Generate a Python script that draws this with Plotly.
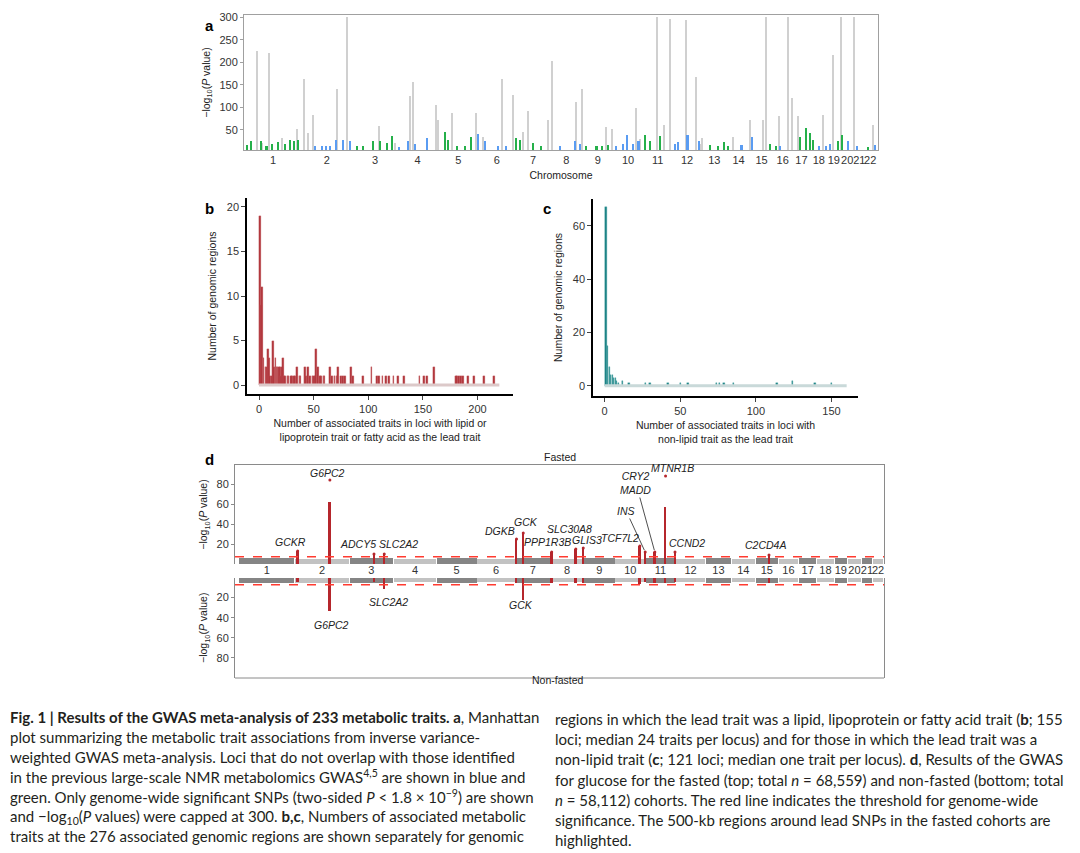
import numpy as np
import plotly.graph_objects as go

# ---------------- data ----------------
chrom_names = [str(i) for i in range(1, 23)]
chrom_len = [249.3, 243.2, 198.0, 191.2, 180.9, 171.1, 159.1, 146.4, 141.2, 135.5, 135.0,
             133.9, 115.2, 107.3, 102.5, 90.4, 81.2, 78.1, 59.1, 63.0, 48.1, 51.3]
chrom_start = np.concatenate([[0], np.cumsum(chrom_len)[:-1]])
chrom_mid = chrom_start + np.array(chrom_len) / 2

# panel a: loci (cumulative genome position in Mb, -log10 P)
gray_pos = [50, 74, 106, 165, 233, 266, 285, 308, 416, 462, 610, 682, 751, 763, 870, 879, 943, 1052,
            1085, 1170, 1221, 1268, 1291, 1382, 1399, 1510, 1538, 1646, 1673, 1783, 1802, 1880, 1912,
            1940, 2013, 2057, 2078, 2085, 2228, 2306, 2364, 2379, 2438, 2479, 2498, 2525, 2640, 2684,
            2722, 2781, 2867]
gray_logp = [224, 20, 220, 32, 51, 163, 43, 83, 140, 300, 59, 20, 124, 157, 105, 71, 87, 88, 35, 163,
             128, 46, 91, 72, 203, 111, 140, 57, 51, 98, 30, 300, 61, 296, 293, 167, 18, 32, 35, 71,
             72, 300, 80, 300, 120, 80, 83, 216, 300, 300, 61]
green_pos = [5, 27, 73, 96, 119, 148, 180, 203, 221, 239, 509, 536, 581, 614, 645, 672, 911, 925, 965,
             1003, 1030, 1236, 1255, 1314, 1353, 1559, 1605, 1628, 1657, 1826, 1848, 1897, 2123, 2159,
             2187, 2208, 2397, 2424, 2535, 2563, 2583, 2594, 2709, 2726, 2846]
green_logp = [17, 24, 24, 13, 19, 22, 19, 28, 24, 28, 13, 13, 24, 24, 20, 37, 46, 28, 13, 15, 34, 31, 28,
              20, 13, 13, 14, 13, 17, 39, 24, 37, 17, 13, 22, 15, 18, 15, 34, 54, 43, 28, 24, 39, 12]
blue_pos = [317, 349, 367, 385, 416, 444, 477, 701, 742, 774, 829, 1062, 1094, 1154, 1193, 1437, 1506,
            1528, 1696, 1725, 1743, 1771, 1797, 1963, 1977, 2021, 2073, 2268, 2318, 2446, 2622, 2653,
            2672, 2755, 2794, 2878]
blue_logp = [13, 13, 13, 13, 28, 28, 24, 12, 24, 19, 31, 41, 24, 13, 15, 14, 24, 19, 13, 19, 39, 19, 26,
             19, 22, 39, 24, 17, 33, 14, 13, 13, 18, 24, 13, 17]

# panel b: lipid lead trait
b_traits = [1, 2, 3, 4, 6, 7, 8, 9, 10, 12, 13, 14, 15, 16, 17, 18, 19, 20, 21, 22, 23, 24, 26, 27, 29,
            30, 32, 33, 35, 37, 38, 42, 43, 45, 47, 49, 50, 51, 52, 54, 56, 57, 59, 60, 65, 67, 69, 71,
            72, 75, 77, 79, 84, 86, 95, 103, 108, 110, 113, 116, 119, 123, 127, 133, 147, 151, 154,
            160, 180, 181, 183, 185, 187, 191, 197, 206, 215]
b_regions = [19, 9, 11, 3, 2, 2, 4, 3, 1, 1, 5, 2, 3, 2, 2, 2, 2, 1, 2, 3, 1, 1, 1, 1, 1,
             1, 1, 1, 2, 1, 1, 2, 1, 2, 1, 1, 1, 1, 4, 2, 1, 1, 1, 1, 2, 1, 1, 1,
             2, 1, 1, 1, 2, 1, 1, 2, 1, 1, 1, 1, 1, 1, 1, 1, 1, 1, 1,
             2, 1, 1, 1, 1, 1, 1, 1, 1, 1]
b_bin_span = [0, 220]

# panel c: non-lipid lead trait
c_traits = [1, 2, 3, 4, 5, 6, 7, 8, 9, 12, 16, 27, 30, 42, 50, 55, 74, 76, 79, 85, 114, 124, 139, 150]
c_regions = [67, 15, 7, 4, 4, 3, 3, 2, 1, 2, 1, 1, 1, 1, 1, 1, 1, 1, 1, 1, 1, 2, 1, 1]
c_bin_span = [0, 160]

# panel d: glucose loci
d_genes = ['GCKR', 'G6PC2', 'ADCY5', 'SLC2A2', 'DGKB', 'GCK', 'PPP1R3B', 'SLC30A8', 'GLIS3',
           'TCF7L2', 'INS', 'CRY2<br>MADD', 'MTNR1B', 'CCND2', 'C2CD4A']
d_pos = [262, 406, 603, 649, 1240, 1270, 1397, 1505, 1538, 1791, 1815, 1858, 1906, 1948, 2368]
d_fasted = [13, 62, 10, 10, 25, 31, 12, 15, 15, 18, 12, 12, 57, 11, 9]
d_fasted_top = [13, 84, 10, 10, 25, 31, 12, 15, 16, 18, 12, 12, 88, 12, 9]
d_nonfasted = [4, 33, 4, 11, 5, 22, 5, 5, 5, 6, 4, 5, 5, 4, 5]
d_nonfasted_labels = ['G6PC2', 'SLC2A2', 'GCK']
band_fasted = [6, 5, 6, 5, 6, 5, 6, 5, 6, 5, 6, 5, 6, 5, 6, 5, 6, 5, 6, 5, 6, 5]
band_nonfasted = [5, 5, 5, 4, 5, 4, 5, 4, 5, 4, 5, 4, 5, 4, 5, 4, 5, 4, 5, 4, 5, 4]
gw_threshold = -np.log10(5e-8)

# ---------------- styles ----------------
# the page body adds an 8 px margin, so the figure is drawn 8 px in from the window corner
OFF = 8
W, H = 1080 - OFF, 853 - OFF
FONT = 'Liberation Sans'
RED = '#b5262c'


def px(x):
    return (x - OFF) / W


def py(y):
    return 1 - (y - OFF) / H


fig = go.Figure()

# panel a
fig.add_trace(go.Bar(x=gray_pos, y=gray_logp, width=5, marker=dict(color='#d0d0d0', line_width=0),
                     xaxis='x', yaxis='y'))
fig.add_trace(go.Bar(x=green_pos, y=green_logp, width=7, marker=dict(color='#25b04a', line_width=0),
                     xaxis='x', yaxis='y'))
fig.add_trace(go.Bar(x=blue_pos, y=blue_logp, width=7, marker=dict(color='#5a9cf2', line_width=0),
                     xaxis='x', yaxis='y'))

# panel b
fig.add_trace(go.Scatter(x=b_bin_span, y=[0, 0], mode='lines', line=dict(color='#dcc9c9', width=3),
                         xaxis='x2', yaxis='y2'))
fig.add_trace(go.Bar(x=b_traits, y=b_regions, width=1.6,
                     marker=dict(color='#b0343a', line=dict(color='#c9676b', width=0.3)),
                     xaxis='x2', yaxis='y2'))

# panel c
fig.add_trace(go.Scatter(x=c_bin_span, y=[0, 0], mode='lines', line=dict(color='#c9d9d9', width=3),
                         xaxis='x3', yaxis='y3'))
fig.add_trace(go.Bar(x=c_traits, y=c_regions, width=0.9,
                     marker=dict(color='#177f82', line=dict(color='#4aa3a5', width=0.4)),
                     xaxis='x3', yaxis='y3'))

# panel d: chromosome bands
band_col = ['#858585' if i % 2 == 0 else '#c2c2c2' for i in range(22)]
band_w = [l - 3 for l in chrom_len]
fig.add_trace(go.Bar(x=chrom_mid, y=band_fasted, width=band_w, marker=dict(color=band_col, line_width=0),
                     xaxis='x4', yaxis='y4'))
fig.add_trace(go.Bar(x=chrom_mid, y=band_nonfasted, width=band_w, marker=dict(color=band_col, line_width=0),
                     xaxis='x5', yaxis='y5'))
fig.add_trace(go.Bar(x=d_pos, y=d_fasted, width=8, marker=dict(color=RED, line_width=0),
                     xaxis='x4', yaxis='y4'))
fig.add_trace(go.Scatter(x=d_pos, y=d_fasted_top, mode='markers', marker=dict(color=RED, size=3),
                         xaxis='x4', yaxis='y4'))
fig.add_trace(go.Bar(x=d_pos, y=d_nonfasted, width=8, marker=dict(color=RED, line_width=0),
                     xaxis='x5', yaxis='y5'))

tickfont = dict(family=FONT, size=11, color='#333333')
titlefont = dict(family=FONT, size=10.5, color='#222222')
ytitle = '\u2212log<sub>10</sub>(<i>P</i> value)'

common = dict(showgrid=False, zeroline=False, tickfont=tickfont, automargin=False, tickangle=0)
fig.update_layout(
    width=W, height=H, margin=dict(l=0, r=0, t=0, b=0, autoexpand=False),
    paper_bgcolor='white', plot_bgcolor='white', showlegend=False, barmode='overlay', bargap=0,
    xaxis=dict(domain=[px(244), px(878)], range=[-8, 2891], anchor='y', tickvals=chrom_mid,
               ticktext=chrom_names, ticks='', showline=True, mirror=True, linecolor='#a0a0a0',
               title=dict(text='Chromosome', font=titlefont, standoff=6), **common),
    yaxis=dict(domain=[py(150), py(15)], range=[5, 305], anchor='x', tickvals=[50, 100, 150, 200, 250, 300],
               ticks='outside', ticklen=3, tickcolor='#a0a0a0', showline=True, mirror=True, linecolor='#a0a0a0',
               title=dict(text=ytitle, font=titlefont, standoff=6), **common),
    xaxis2=dict(domain=[px(247), px(513)], range=[-11, 232.5], anchor='y2', tickvals=[0, 50, 100, 150, 200],
                ticks='outside', ticklen=4, showline=True, linecolor='black', linewidth=1.5,
                title=dict(text='Number of associated traits in loci with lipid or<br>'
                                'lipoprotein trait or fatty acid as the lead trait', font=titlefont, standoff=6),
                **common),
    yaxis2=dict(domain=[py(394), py(198)], range=[-1, 21], anchor='x2', tickvals=[0, 5, 10, 15, 20],
                ticks='outside', ticklen=4, showline=True, linecolor='black', linewidth=1.5,
                title=dict(text='Number of genomic regions', font=titlefont, standoff=8), **common),
    xaxis3=dict(domain=[px(593), px(858)], range=[-7.7, 167.5], anchor='y3', tickvals=[0, 50, 100, 150],
                ticks='outside', ticklen=4, showline=True, linecolor='black', linewidth=1.5,
                title=dict(text='Number of associated traits in loci with<br>'
                                'non-lipid trait as the lead trait', font=titlefont, standoff=6),
                **common),
    yaxis3=dict(domain=[py(396), py(199)], range=[-3.8, 70], anchor='x3', tickvals=[0, 20, 40, 60],
                ticks='outside', ticklen=4, showline=True, linecolor='black', linewidth=1.5,
                title=dict(text='Number of genomic regions', font=titlefont, standoff=8), **common),
    xaxis4=dict(domain=[px(235), px(884)], range=[-18, 2882], anchor='y4', side='top', showticklabels=False,
                ticks='', showline=True, linecolor='#8a8a8a', **common),
    yaxis4=dict(domain=[py(564), py(465)], range=[0, 99], anchor='x4', tickvals=[20, 40, 60, 80],
                ticks='outside', ticklen=3, tickcolor='#8a8a8a', showline=True, mirror=True, linecolor='#8a8a8a',
                title=dict(text=ytitle, font=titlefont, standoff=6), **common),
    xaxis5=dict(domain=[px(235), px(884)], range=[-18, 2882], anchor='y5', side='top', tickvals=chrom_mid,
                ticktext=chrom_names, ticks='', showline=False, **common),
    yaxis5=dict(domain=[py(678), py(577.5)], range=[100, 0], anchor='x5', tickvals=[20, 40, 60, 80],
                ticks='outside', ticklen=3, tickcolor='#8a8a8a', showline=True, mirror=True, linecolor='#8a8a8a',
                title=dict(text=ytitle, font=titlefont, standoff=6), **common),
)

# bottom border of non-fasted panel and threshold lines
fig.add_shape(type='line', xref='x5 domain', yref='y5 domain', x0=0, x1=1, y0=0, y1=0,
              line=dict(color='#8a8a8a', width=1))
for ax in ('4', '5'):
    fig.add_shape(type='line', xref='x%s domain' % ax, yref='y' + ax, x0=0, x1=1,
                  y0=gw_threshold, y1=gw_threshold, line=dict(color='#ff3b30', width=1.5, dash='dash'))

# gene labels (offsets in px)
label_shift = {'GCKR': (-7, 1), 'G6PC2': (-2, -1), 'ADCY5': (-16, 2), 'SLC2A2': (14, 2), 'DGKB': (-17, 0),
               'GCK': (3, 3), 'PPP1R3B': (-4, 2), 'SLC30A8': (-6, 12), 'GLIS3': (4, 0), 'TCF7L2': (-20, 0),
               'MTNR1B': (7, 0), 'CCND2': (12, 1), 'C2CD4A': (-3, 2)}
label_arrow = {'INS': (-19, -41), 'CRY2<br>MADD': (-19, -69)}
genefont = dict(family=FONT, size=10.5, color='#222222', style='italic')
for g, x, top in zip(d_genes, d_pos, d_fasted_top):
    if g in label_arrow:
        ax_, ay_ = label_arrow[g]
        fig.add_annotation(x=x, y=top, xref='x4', yref='y4', text=g, font=genefont, showarrow=True,
                           arrowhead=0, arrowwidth=0.8, arrowcolor='#222222', ax=ax_, ay=ay_, standoff=2)
    else:
        dx, dy = label_shift[g]
        fig.add_annotation(x=x, y=top, xref='x4', yref='y4', text=g, font=genefont, showarrow=False,
                           xanchor='center', yanchor='bottom', xshift=dx, yshift=dy)
bottom_shift = {'G6PC2': (2, -6), 'SLC2A2': (4, -5), 'GCK': (-2, 3)}
for g, x, v in zip(d_genes, d_pos, d_nonfasted):
    if g in d_nonfasted_labels:
        dx, dy = bottom_shift[g]
        fig.add_annotation(x=x, y=v, xref='x5', yref='y5', text=g, font=genefont, showarrow=False,
                           xanchor='center', yanchor='top', xshift=dx, yshift=dy)

fig.add_annotation(x=px(560), y=py(457), xref='paper', yref='paper', text='Fasted', showarrow=False,
                   font=titlefont)
fig.add_annotation(x=px(558), y=py(688), xref='paper', yref='paper', text='Non-fasted', showarrow=False,
                   font=titlefont)

# panel letters
for letter, x, y in [('a', 203, 15), ('b', 203, 198), ('c', 547, 198), ('d', 203, 459)]:
    fig.add_annotation(x=px(x), y=py(y), xref='paper', yref='paper', text='<b>%s</b>' % letter,
                       showarrow=False, font=dict(family=FONT, size=15, color='black'))

# caption
cap_left = [
    '<b>Fig. 1 | Results of the GWAS meta-analysis of 233 metabolic traits. a</b>, Manhattan',
    'plot summarizing the metabolic trait associations from inverse variance-',
    'weighted GWAS meta-analysis. Loci that do not overlap with those identified',
    'in the previous large-scale NMR metabolomics GWAS<sup>4,5</sup> are shown in blue and',
    'green. Only genome-wide significant SNPs (two-sided <i>P</i> < 1.8 \u00d7 10<sup>\u22129</sup>) are shown',
    'and \u2212log<sub>10</sub>(<i>P</i> values) were capped at 300. <b>b,c</b>, Numbers of associated metabolic',
    'traits at the 276 associated genomic regions are shown separately for genomic',
]
cap_right = [
    'regions in which the lead trait was a lipid, lipoprotein or fatty acid trait (<b>b</b>; 155',
    'loci; median 24 traits per locus) and for those in which the lead trait was a',
    'non-lipid trait (<b>c</b>; 121 loci; median one trait per locus). <b>d</b>, Results of the GWAS',
    'for glucose for the fasted (top; total <i>n</i> = 68,559) and non-fasted (bottom; total',
    '<i>n</i> = 58,112) cohorts. The red line indicates the threshold for genome-wide',
    'significance. The 500-kb regions around lead SNPs in the fasted cohorts are',
    'highlighted.',
]
capfont = dict(family='Lato', size=15, color='#231f20')
for i, line in enumerate(cap_left):
    fig.add_annotation(x=px(8), y=py(717 + 19.9 * i), xref='paper', yref='paper', text=line,
                       showarrow=False, xanchor='left', yanchor='middle', font=capfont)
for i, line in enumerate(cap_right):
    fig.add_annotation(x=px(553), y=py(719 + 20.2 * i), xref='paper', yref='paper', text=line,
                       showarrow=False, xanchor='left', yanchor='middle', font=capfont)

fig.write_html('out.html')
